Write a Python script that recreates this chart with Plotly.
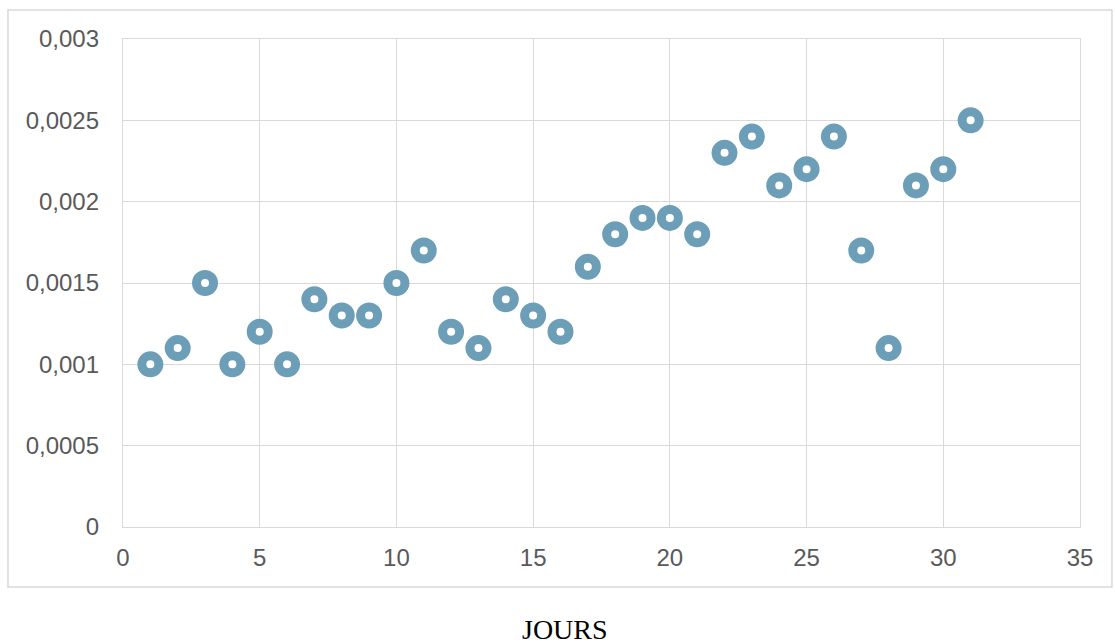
import plotly.graph_objects as go

# Daily values
jours = list(range(1, 32))
valeurs = [0.0010, 0.0011, 0.0015, 0.0010, 0.0012, 0.0010, 0.0014, 0.0013,
           0.0013, 0.0015, 0.0017, 0.0012, 0.0011, 0.0014, 0.0013, 0.0012,
           0.0016, 0.0018, 0.0019, 0.0019, 0.0018, 0.0023, 0.0024, 0.0021,
           0.0022, 0.0024, 0.0017, 0.0011, 0.0021, 0.0022, 0.0025]

x_ticks = [0, 5, 10, 15, 20, 25, 30, 35]
y_ticks = [0, 0.0005, 0.001, 0.0015, 0.002, 0.0025, 0.003]
y_labels = ["0", "0,0005", "0,001", "0,0015", "0,002", "0,0025", "0,003"]

blue = "#6C9EB8"
grid = "#D9D9D9"
tick_font = dict(family="Liberation Sans, Arial, sans-serif", size=24, color="#595959")

fig = go.Figure(
    go.Scatter(
        x=jours, y=valeurs, mode="markers",
        marker=dict(symbol="circle", size=17, color="white",
                    line=dict(color=blue, width=9)),
        hoverinfo="x+y",
    )
)

fig.update_layout(
    width=1115, height=644,
    margin=dict(l=123, r=35, t=39, b=117),
    paper_bgcolor="white", plot_bgcolor="white",
    showlegend=False,
    xaxis=dict(range=[0, 35], tickvals=x_ticks, ticktext=[str(v) for v in x_ticks],
               showgrid=True, gridcolor=grid, gridwidth=1.3,
               showline=True, linecolor=grid, linewidth=1.3, mirror=True,
               zeroline=False, ticks="", tickfont=tick_font, ticklabelstandoff=9),
    yaxis=dict(range=[0, 0.003], tickvals=y_ticks, ticktext=y_labels,
               showgrid=True, gridcolor=grid, gridwidth=1.3,
               showline=True, linecolor=grid, linewidth=1.3, mirror=True,
               zeroline=False, ticks="", tickfont=tick_font, ticklabelstandoff=18),
    shapes=[dict(type="rect", xref="paper", yref="paper",
                 x0=-0.1202, x1=1.0334, y0=-0.123, y1=1.0594,
                 line=dict(color="#D9D9D9", width=1.5), layer="below")],
    annotations=[dict(text="JOURS", xref="paper", yref="paper",
                      x=0.462, y=-0.211, showarrow=False,
                      xanchor="center", yanchor="middle",
                      font=dict(family="Liberation Serif, Times New Roman, serif",
                                size=28, color="black"))],
)

fig.write_html("out.html")
